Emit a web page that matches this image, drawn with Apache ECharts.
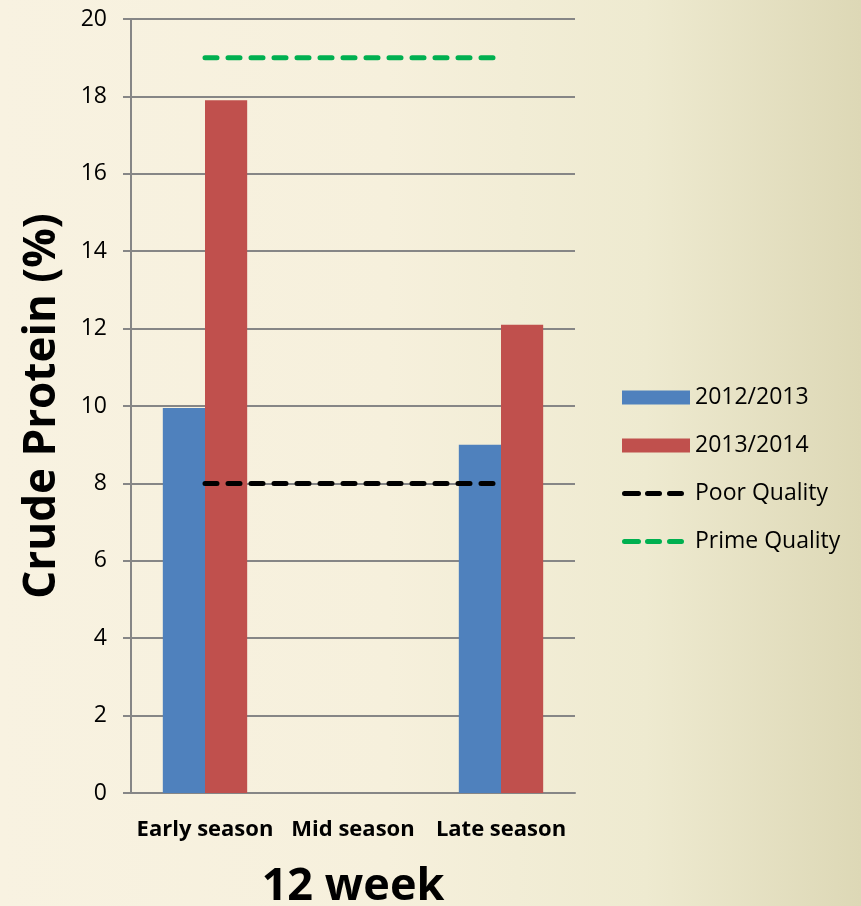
<!DOCTYPE html>
<html>
<head>
<meta charset="utf-8">
<script src="https://cdn.jsdelivr.net/npm/echarts@6/dist/echarts.min.js"></script>
<style>
  html, body { margin: 0; padding: 0; }
  body {
    width: 861px; height: 906px;
    background: linear-gradient(90deg, #f8f2e1 0%, #f6f0dc 45%, #eeead0 75%, #ddd8b6 100%);
  }
  #chart { width: 861px; height: 906px; }
</style>
</head>
<body>
<div id="chart"></div>
<script>
// Crude protein by season, 12 week
const categories = ['Early season', 'Mid season', 'Late season'];
const season1213 = [9.95, null, 9.0];
const season1314 = [17.9, null, 12.1];
const poorQuality = [8, 8, 8];
const primeQuality = [19, 19, 19];
const yTicks = { min: 0, max: 20, interval: 2 };

const FONT = '"Open Sans", "Noto Sans", sans-serif';
const dashed = (color) => ({ color: color, width: 5, type: [12, 11], cap: 'round' });

// Legend glyph for the threshold lines: three rounded dashes in a 68x14 box
// (the two zero-area subpaths only pin the box corners).
const dash = (x0, x1) =>
  `M${x0 + 2.5},4.5 H${x1 - 2.5} A2.5,2.5 0 0 1 ${x1 - 2.5},9.5 H${x0 + 2.5} A2.5,2.5 0 0 1 ${x0 + 2.5},4.5 Z`;
const dashIcon = 'path://M0,0 L0.001,0 Z M68,14 L67.999,14 Z ' +
  dash(0, 19) + ' ' + dash(23, 40) + ' ' + dash(45, 62);

const chart = echarts.init(document.getElementById('chart'), null, { renderer: 'canvas' });
chart.setOption({
  backgroundColor: 'transparent',
  animation: false,
  textStyle: { fontFamily: FONT },
  grid: { left: 131, right: 286, top: 19, bottom: 113, outerBoundsMode: 'none', containLabel: false },
  legend: {
    orient: 'vertical',
    left: 617,
    top: 381,
    itemWidth: 68,
    itemHeight: 14,
    itemGap: 25,
    textStyle: { fontFamily: FONT, fontSize: 23, color: '#000' },
    data: [
      { name: '2012/2013', icon: 'rect' },
      { name: '2013/2014', icon: 'rect' },
      { name: 'Poor Quality', icon: dashIcon },
      { name: 'Prime Quality', icon: dashIcon }
    ]
  },
  xAxis: {
    type: 'category',
    data: categories,
    name: '12 week',
    nameLocation: 'middle',
    nameGap: 72,
    nameTextStyle: { fontFamily: FONT, fontSize: 45, fontWeight: 'bold', color: '#000' },
    axisLine: { lineStyle: { color: '#868686', width: 2 } },
    axisTick: { length: 8, lineStyle: { color: '#868686', width: 2 } },
    axisLabel: { interval: 0, margin: 26, fontFamily: FONT, fontSize: 22, fontWeight: 'bold', color: '#000' }
  },
  yAxis: {
    type: 'value',
    min: yTicks.min,
    max: yTicks.max,
    interval: yTicks.interval,
    name: 'Crude Protein (%)',
    nameLocation: 'middle',
    nameGap: 67,
    nameTextStyle: { fontFamily: FONT, fontSize: 44, fontWeight: 'bold', color: '#000' },
    axisLine: { show: true, lineStyle: { color: '#868686', width: 2 } },
    axisTick: { show: true, length: 8, lineStyle: { color: '#868686', width: 2 } },
    axisLabel: { margin: 24, fontFamily: FONT, fontSize: 23, color: '#000' },
    splitLine: { lineStyle: { color: '#868686', width: 2 } }
  },
  series: [
    {
      name: '2012/2013', type: 'bar', data: season1213,
      barGap: '0%', barCategoryGap: '43%',
      itemStyle: { color: '#4f81bd' }
    },
    {
      name: '2013/2014', type: 'bar', data: season1314,
      barGap: '0%', barCategoryGap: '43%',
      itemStyle: { color: '#c0504d' }
    },
    {
      name: 'Poor Quality', type: 'line', data: poorQuality,
      symbol: 'none', lineStyle: dashed('#000000'), itemStyle: { color: '#000000' }, z: 5
    },
    {
      name: 'Prime Quality', type: 'line', data: primeQuality,
      symbol: 'none', lineStyle: dashed('#00b050'), itemStyle: { color: '#00b050' }, z: 5
    }
  ]
});
</script>
</body>
</html>
